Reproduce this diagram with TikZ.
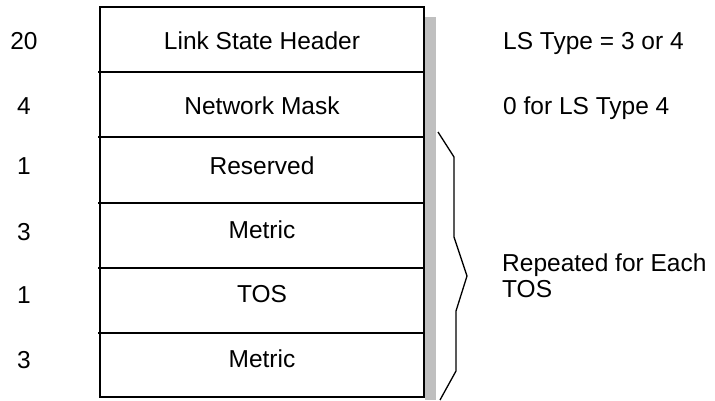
\documentclass[tikz,border=0pt]{standalone}
\usepackage{fontspec}
\setmainfont{Liberation Sans}
\begin{document}
\begin{tikzpicture}[x=1pt,y=-1pt,
  lbl/.style={font=\fontsize{24.5}{29}\selectfont, inner sep=0pt, anchor=base},
  lbll/.style={lbl, anchor=base west},
  rowline/.style={line width=1.3pt, black},
  shadow/.style={fill=black!25, draw=none}]
\useasboundingbox (0,0) rectangle (715,400);
% shadow
\fill[shadow] (425,17) rectangle (436,400);
% box
\draw[rowline] (100,7) rectangle (424,397);
\foreach \yy in {72,137,203,268,333} \draw[rowline] (98,\yy) -- (424,\yy);
% field labels
\node[lbl] (f1) at (262,49) {Link State Header};
\node[lbl] (f2) at (262,114) {Network Mask};
\node[lbl] (f3) at (262,174) {Reserved};
\node[lbl] (f4) at (262,238) {Metric};
\node[lbl] (f5) at (262,302) {TOS};
\node[lbl] (f6) at (262,367) {Metric};
% sizes
\node[lbl] (n1) at (24,49) {20};
\node[lbl] (n2) at (24,114) {4};
\node[lbl] (n3) at (24,174) {1};
\node[lbl] (n4) at (24,240) {3};
\node[lbl] (n5) at (24,303) {1};
\node[lbl] (n6) at (24,368) {3};
% notes
\node[lbll] (c1) at (503,49) {LS Type = 3 or 4};
\node[lbll] (c2) at (503,114) {0 for LS Type 4};
\node[lbll] (c3) at (502,271) {Repeated for Each};
\node[lbll] (c4) at (502,297) {TOS};
% brace
\draw[line width=1.3pt, line join=miter] (438,132) -- (454,157) -- (454,237) -- (467,276) -- (456,311) -- (456,371) -- (440,400);
\end{tikzpicture}
\end{document}
